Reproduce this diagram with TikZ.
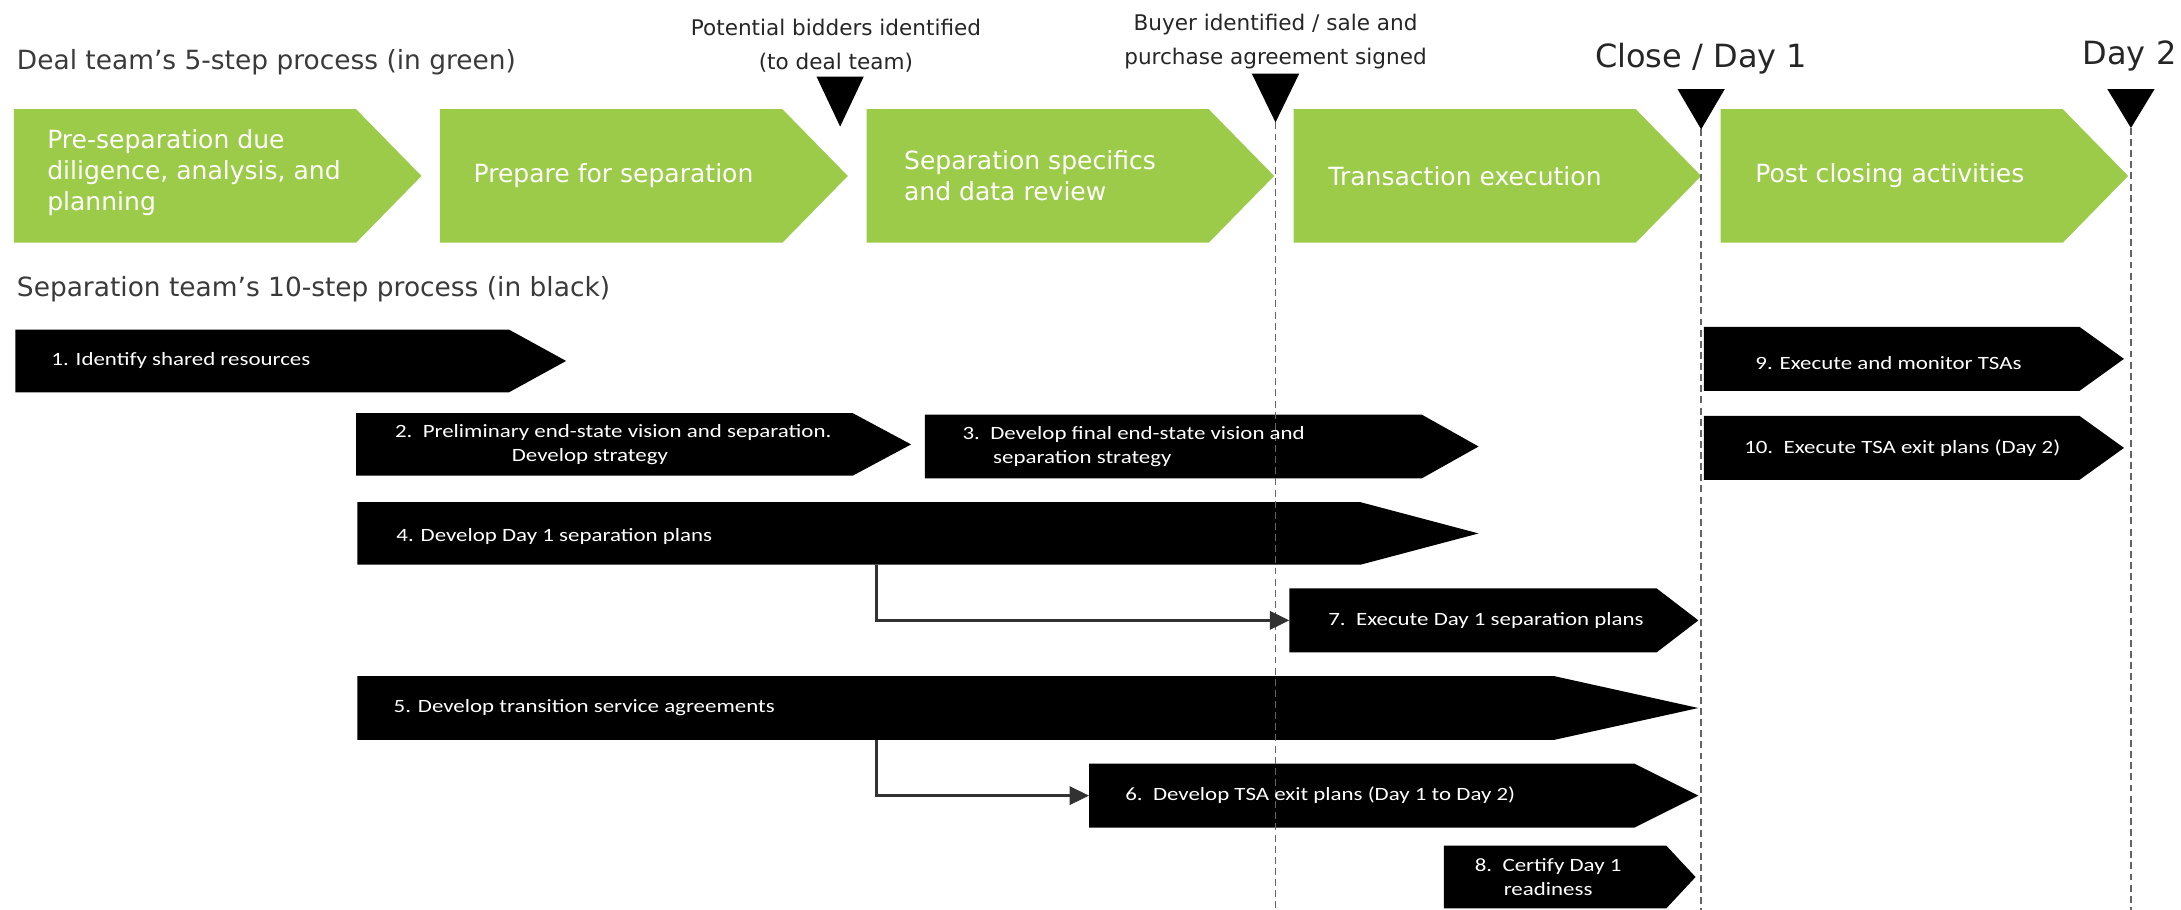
\documentclass[tikz,border=0pt]{standalone}
\usepackage{fontspec}
\setmainfont{DejaVu Sans}
\newfontfamily\stepfont[FakeStretch=1.22]{Carlito}
\usetikzlibrary{arrows.meta,backgrounds,positioning}

\definecolor{dealgreen}{RGB}{155,203,72}
\definecolor{headgray}{RGB}{58,58,58}
\definecolor{guidegray}{RGB}{100,100,100}
\definecolor{linkgray}{RGB}{50,50,50}

\begin{document}
\begin{tikzpicture}[x=1pt,y=-1pt,
  body/.style={inner sep=0pt, outer sep=0pt, anchor=west},
  dealbody/.style={body, minimum width=246pt, minimum height=96pt},
  dealtext/.style={inner sep=0pt, outer sep=0pt, text=white, align=left,
    font=\fontsize{18}{22.5}\selectfont},
  steptext/.style={inner sep=0pt, outer sep=0pt, text=white, align=left,
    font=\stepfont\fontsize{13.5}{17}\selectfont},
  heading/.style={inner sep=0pt, anchor=west, text=headgray,
    font=\fontsize{19}{23}\selectfont},
  milestone/.style={inner sep=0pt, align=center, text=black!85,
    font=\fontsize{15.5}{24}\selectfont},
  bigmilestone/.style={inner sep=0pt, align=center, text=black!85,
    font=\fontsize{23}{27}\selectfont},
  guide/.style={guidegray, line width=1.2pt, dash pattern=on 5pt off 3pt},
  link/.style={linkgray, line width=2.2pt, -{Triangle[length=14pt,width=13pt]}}
]
\useasboundingbox (0,0) rectangle (1568,654);

% ---------- headings ----------
\node[heading] (h1) at (12,45) {Deal team’s 5-step process (in green)};
\node[heading] (h2) at (12,208) {Separation team’s 10-step process (in black)};

% ---------- milestone markers ----------
\foreach \mx/\mt/\mb in {604/55/91, 917/53/88, 1223/64/93, 1532/64/92}
  \fill (\mx-17,\mt) -- (\mx+17,\mt) -- (\mx,\mb) -- cycle;
\coordinate (d1) at (917,88);   \coordinate (d1e) at (917,654);
\coordinate (d2) at (1223,93);  \coordinate (d2e) at (1223,654);
\coordinate (d3) at (1532,92);  \coordinate (d3e) at (1532,654);
\draw[guide] (d1) -- (d1e);
\draw[guide] (d2) -- (d2e);
\draw[guide] (d3) -- (d3e);

\node[milestone] (ml1) at (601,33) {Potential bidders identified\\(to deal team)};
\node[milestone] (ml2) at (917,30) {Buyer identified / sale and\\purchase agreement signed};
\node[bigmilestone] (ml3) at (1223,42) {Close / Day 1};
\node[bigmilestone] (ml4) at (1531,40) {Day 2};

% ---------- deal team steps ----------
\node[dealbody] (g1) at (10,126.5) {};
\node[dealbody] (g2) at (316.5,126.5) {};
\node[dealbody] (g3) at (623,126.5) {};
\node[dealbody] (g4) at (930,126.5) {};
\node[dealbody] (g5) at (1237,126.5) {};

\node[dealtext, right=24pt of g1.west, yshift=2.5pt] (g1t) {Pre-separation due\\diligence, analysis, and\\planning};
\node[dealtext, right=24pt of g2.west] (g2t) {Prepare for separation};
\node[dealtext, right=27pt of g3.west] (g3t) {Separation specifics\\and data review};
\node[dealtext, right=25pt of g4.west] (g4t) {Transaction execution};
\node[dealtext, right=25pt of g5.west] (g5t) {Post closing activities};

% ---------- separation team steps ----------
\node[body, minimum width=355pt, minimum height=45pt] (s1) at (11,259.5) {};
\node[body, minimum width=357pt, minimum height=45pt] (s2) at (256,319.5) {};
\node[body, minimum width=357pt, minimum height=46pt] (s3) at (665,321) {};
\node[body, minimum width=721pt, minimum height=45pt] (s4) at (257,383.5) {};
\node[body, minimum width=860pt, minimum height=46pt] (s5) at (257,509) {};
\node[body, minimum width=392pt, minimum height=46pt] (s6) at (783,572) {};
\node[body, minimum width=264pt, minimum height=46pt] (s7) at (927,446) {};
\node[body, minimum width=160pt, minimum height=45pt] (s8) at (1038,630.5) {};
\node[body, minimum width=270pt, minimum height=46pt] (s9) at (1225,258) {};
\node[body, minimum width=270pt, minimum height=46pt] (s10) at (1225,322) {};

\node[steptext, right=26pt of s1.west] (s1t) {1. Identify shared resources};
\node[steptext, right=28pt of s2.west] (s2t) {2.\ \ Preliminary end-state vision and separation.\\\hspace*{84pt}Develop strategy};
\node[steptext, right=27pt of s3.west] (s3t) {3.\ \ Develop final end-state vision and\\\hspace*{22pt}separation strategy};
\node[steptext, right=28pt of s4.west, yshift=-2pt] (s4t) {4. Develop Day 1 separation plans};
\node[steptext, right=26pt of s5.west] (s5t) {5. Develop transition service agreements};
\node[steptext, right=26pt of s6.west] (s6t) {6.\ \ Develop TSA exit plans (Day 1 to Day 2)};
\node[steptext, right=28pt of s7.west] (s7t) {7.\ \ Execute Day 1 separation plans};
\node[steptext, align=center] (s8t) at ([xshift=-5pt]s8.center) {8.\ \ Certify Day 1\\readiness};
\node[steptext, right=37pt of s9.west, yshift=-3pt] (s9t) {9. Execute and monitor TSAs};
\node[steptext, right=29pt of s10.west] (s10t) {10.\ \ Execute TSA exit plans (Day 2)};

% ---------- chevron bodies ----------
\begin{scope}[on background layer]
  \foreach \n in {g1,g2,g3,g4,g5}
    \fill[dealgreen] (\n.north west) -- (\n.north east) -- ([xshift=47pt]\n.east)
      -- (\n.south east) -- (\n.south west) -- cycle;
  \foreach \n/\t in {s1/41, s2/42, s3/41, s4/85, s5/104, s6/46, s7/30, s8/21, s9/32, s10/32}
    \fill[black] (\n.north west) -- (\n.north east) -- ([xshift=\t pt]\n.east)
      -- (\n.south east) -- (\n.south west) -- cycle;
\end{scope}

% ---------- hand-offs ----------
\draw[link] ([xshift=373pt]s4.south west) |- (s7.west);
\draw[link] ([xshift=373pt]s5.south west) |- (s6.west);
\end{tikzpicture}
\end{document}
